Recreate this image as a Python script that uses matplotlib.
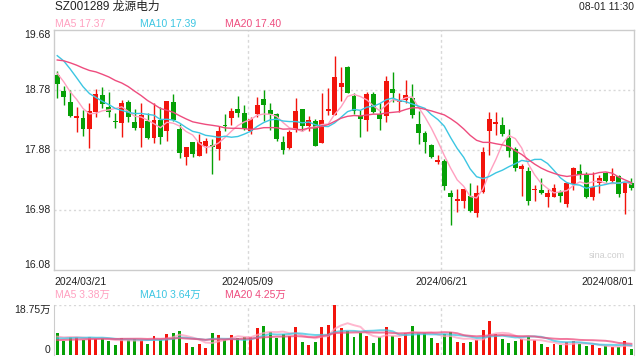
import numpy as np
import pandas as pd
from matplotlib import pyplot as plt

plt.rcParams['font.family'] = ['Liberation Sans', 'Noto Sans CJK SC']

# daily candles, 2024/03/21 .. 2024/08/01
opens = [19.005, 18.765, 18.60, 18.365, 18.36, 18.20, 18.45, 18.705, 18.525, 18.315,
         18.29, 18.60, 18.30, 18.215, 18.315, 18.06, 18.33, 18.17, 18.595, 18.195,
         17.78, 18.00, 17.795, 17.94, 17.95, 17.90, 18.25, 18.365, 18.495, 18.435,
         18.165, 18.425, 18.64, 18.48, 18.42, 18.00, 17.905, 18.19, 18.495, 18.24,
         18.315, 17.99, 18.47, 18.41, 18.83, 19.13, 18.695, 18.395, 18.335, 18.72,
         18.42, 18.395, 18.795, 18.60, 18.63, 18.665, 18.265, 18.13, 17.95, 17.705,
         17.715, 17.23, 17.12, 17.12, 17.195, 16.93, 17.255, 18.17, 18.265, 18.255,
         18.06, 17.895, 17.60, 17.565, 17.28, 17.28, 17.18, 17.18, 17.255, 17.075,
         17.375, 17.565, 17.505, 17.18, 17.39, 17.54, 17.42, 17.49, 17.23, 17.38]
highs = [19.07, 18.845, 18.78, 18.53, 18.48, 18.59, 18.79, 18.825, 18.75, 18.44,
         18.63, 18.625, 18.49, 18.59, 18.43, 18.58, 18.525, 18.615, 18.725, 18.27,
         17.93, 18.005, 18.12, 18.065, 18.045, 18.245, 18.42, 18.515, 18.69, 18.55,
         18.375, 18.68, 18.78, 18.58, 18.43, 18.095, 18.18, 18.655, 18.495, 18.395,
         18.345, 18.73, 18.805, 19.295, 19.13, 19.14, 18.74, 18.48, 18.745, 18.745,
         18.58, 18.99, 19.05, 18.73, 18.93, 18.865, 18.465, 18.17, 17.965, 17.805,
         17.75, 17.28, 17.29, 17.295, 17.39, 17.36, 17.92, 18.455, 18.455, 18.38,
         18.195, 17.92, 17.67, 17.63, 17.355, 17.455, 17.295, 17.37, 17.28, 17.405,
         17.63, 17.665, 17.555, 17.555, 17.505, 17.555, 17.605, 17.505, 17.405, 17.455]
lows = [18.655, 18.555, 18.38, 18.155, 18.095, 17.905, 18.38, 18.505, 18.37, 18.215,
        18.07, 18.305, 18.18, 17.92, 18.04, 17.98, 17.975, 18.015, 18.31, 17.755,
        17.66, 17.77, 17.79, 17.83, 17.515, 17.725, 18.17, 18.25, 18.37, 18.18,
        18.115, 18.37, 18.315, 18.185, 18.02, 17.815, 17.895, 18.155, 18.17, 18.17,
        17.94, 17.99, 18.405, 18.405, 18.62, 18.73, 18.42, 18.08, 18.17, 18.43,
        18.175, 18.30, 18.605, 18.455, 18.58, 18.365, 17.965, 17.83, 17.755, 17.67,
        17.28, 16.755, 16.945, 17.015, 16.945, 16.88, 17.23, 17.805, 18.105, 18.095,
        17.77, 17.57, 17.19, 17.055, 17.11, 17.22, 17.02, 17.18, 17.095, 17.02,
        17.28, 17.44, 17.165, 17.13, 17.24, 17.405, 17.39, 17.18, 16.92, 17.275]
closes = [18.865, 18.67, 18.395, 18.385, 18.20, 18.46, 18.72, 18.575, 18.455, 18.305,
          18.585, 18.38, 18.205, 18.40, 18.06, 18.33, 18.075, 18.615, 18.33, 17.84,
          17.92, 17.82, 17.995, 18.015, 17.93, 18.165, 18.235, 18.465, 18.44, 18.20,
          18.35, 18.55, 18.56, 18.42, 18.045, 17.885, 18.15, 18.465, 18.245, 18.325,
          17.945, 18.33, 18.50, 18.975, 18.89, 18.73, 18.47, 18.345, 18.72, 18.455,
          18.345, 18.915, 18.74, 18.615, 18.705, 18.405, 18.14, 18.005, 17.77, 17.73,
          17.345, 17.17, 17.14, 17.295, 16.97, 17.23, 17.85, 18.345, 18.305, 18.12,
          17.87, 17.615, 17.64, 17.12, 17.295, 17.235, 17.23, 17.305, 17.195, 17.39,
          17.615, 17.505, 17.17, 17.33, 17.465, 17.42, 17.49, 17.215, 17.405, 17.305]
# volume, 万 shares
volumes = [8.25, 5.375, 6.75, 6.75, 5.6, 6.75, 5.9, 6.4, 5.25, 3.75,
           6.4, 5.6, 6.1, 5.6, 4.25, 7.1, 6.0, 7.9, 8.25, 9.0,
           4.6, 3.0, 4.1, 2.6, 8.25, 7.5, 5.6, 7.5, 6.4, 6.9,
           6.9, 10.1, 10.9, 8.6, 6.4, 7.9, 7.1, 10.5, 4.9, 3.75,
           4.9, 10.5, 11.25, 18.75, 10.1, 9.0, 6.75, 8.25, 7.1, 4.5,
           6.75, 10.5, 7.1, 6.4, 8.25, 10.9, 8.25, 8.25, 6.4, 4.5,
           7.9, 8.6, 4.9, 4.5, 4.9, 5.6, 9.4, 12.75, 7.9, 6.0,
           4.5, 5.25, 6.0, 6.75, 5.6, 4.1, 3.0, 4.1, 3.75, 4.9,
           5.25, 4.1, 3.4, 3.75, 2.6, 3.4, 3.0, 3.0, 5.25, 2.25]
# days before the window, only needed so the moving averages start where they do
pre_closes = [18.9, 19.0, 19.1, 19.05, 19.2, 19.15, 19.3, 19.25, 19.35, 19.35,
              19.45, 19.6, 19.7, 19.55, 19.5, 19.3, 19.15, 18.95, 18.885]
pre_volumes = [4.5, 5.0, 5.2, 4.8, 4.6, 5.3, 5.1, 4.9, 5.0, 5.1,
               5.4, 5.8, 5.5, 5.9, 5.4, 6.8, 6.2, 6.9, 6.35]

# values printed in the legends
ma_names = ['MA5', 'MA10', 'MA20']
price_ma_text = ['17.37', '17.39', '17.40']
vol_ma_text = ['3.38万', '3.64万', '4.25万']

date_labels = ['2024/03/21', '2024/05/09', '2024/06/21', '2024/08/01']
date_idx = [0, 30, 60, 89]
price_ticks = [19.68, 18.78, 17.88, 16.98, 16.08]
vol_max = 18.75

RED = '#f2140c'
GREEN = '#06a006'
MA_COLORS = ['#ffa0c0', '#3cc6e2', '#ee4c7e']
GRID = '#d8d8d8'

n = len(closes)
x = np.arange(n)
o = np.array(opens)
c = np.array(closes)
up = c >= o
colors = np.where(up, RED, GREEN)

all_c = pd.Series(pre_closes + closes)
all_v = pd.Series(pre_volumes + volumes)
k = len(pre_closes)
windows = [5, 10, 20]

fig = plt.figure(figsize=(6.4, 3.6), dpi=100)
ax = fig.add_axes([54 / 640, 90 / 360, 580 / 640, 240 / 360])
axv = fig.add_axes([54 / 640, 5 / 360, 580 / 640, 50 / 360])

# candles: wicks then bodies
ax.vlines(x, lows, highs, colors=colors, linewidth=1, zorder=3)
body_lo = np.minimum(o, c)
body_h = np.maximum(np.abs(c - o), 0.012)
ax.bar(x, body_h, bottom=body_lo, width=0.76, color=colors, linewidth=0, zorder=4)
for w, col in zip(windows, MA_COLORS):
    ax.plot(x, all_c.rolling(w).mean().values[k:], color=col, lw=1, zorder=5)

ax.set_xlim(-0.5, 89.4)
ax.set_ylim(price_ticks[-1], price_ticks[0])
ax.set_xticks([])
ax.set_yticks([])
for s in ax.spines.values():
    s.set_color('#cccccc')
    s.set_linewidth(1)
for p in price_ticks[1:-1]:
    ax.axhline(p, color=GRID, lw=1, ls=(0, (1.5, 2)), zorder=1)
for i in date_idx[1:3]:
    ax.axvline(i - 0.5, color=GRID, lw=1, ls=(0, (2, 2)), zorder=1)
    axv.axvline(i - 0.5, color=GRID, lw=1, ls=(0, (2, 2)), zorder=1)

# price labels on the left
for p in price_ticks:
    va = 'top' if p == price_ticks[0] else ('bottom' if p == price_ticks[-1] else 'center')
    ax.text(-0.006, p, '%.2f' % p, transform=ax.get_yaxis_transform(), ha='right', va=va,
            fontsize=7.5, color='#222222')

# date labels
ax.text(0, -0.03, date_labels[0], transform=ax.transAxes, ha='left', va='top', fontsize=7.5, color='#222222')
for lab, i in zip(date_labels[1:3], date_idx[1:3]):
    ax.text(i - 0.5, -0.03, lab, transform=ax.get_xaxis_transform(), ha='center', va='top',
            fontsize=7.5, color='#222222')
ax.text(1, -0.03, date_labels[3], transform=ax.transAxes, ha='right', va='top', fontsize=7.5, color='#222222')
ax.text(0.985, 0.06, 'sina.com', transform=ax.transAxes, ha='right', va='center', fontsize=6.5, color='#cfcfcf')

# volume panel
axv.bar(x, volumes, width=0.46, color=colors, linewidth=0, zorder=3)
for w, col in zip(windows, MA_COLORS):
    axv.plot(x, all_v.rolling(w).mean().values[k:], color=col, lw=1.4, alpha=0.75, zorder=4)
axv.set_xlim(-0.5, 89.4)
axv.set_ylim(0, vol_max)
axv.set_xticks([])
axv.set_yticks([])
for side in ('left', 'right'):
    axv.spines[side].set_color('#cccccc')
for side in ('top', 'bottom'):
    axv.spines[side].set_visible(False)
axv.axhline(vol_max, color=GRID, lw=1, ls=(0, (1.5, 2)), zorder=1)
axv.axhline(0, color=GRID, lw=1, ls=(0, (1.5, 2)), zorder=1)
axv.text(-0.006, vol_max, '18.75万', transform=axv.get_yaxis_transform(), ha='right', va='top',
         fontsize=7.5, color='#222222')
axv.text(-0.006, 0, '0', transform=axv.get_yaxis_transform(), ha='right', va='bottom',
         fontsize=7.5, color='#222222')

# header texts
fig.text(55 / 640, 1 - 7 / 360, 'SZ001289 龙源电力', ha='left', va='center', fontsize=8.5, color='#222222')
fig.text(634 / 640, 1 - 7 / 360, '08-01 11:30', ha='right', va='center', fontsize=7.5, color='#222222')
for xpos, name, pt, vt, col in zip([55, 140, 225], ma_names, price_ma_text, vol_ma_text, MA_COLORS):
    fig.text(xpos / 640, 1 - 24 / 360, name + ' ' + pt, ha='left', va='center', fontsize=7.5, color=col)
    fig.text(xpos / 640, 1 - 295 / 360, name + ' ' + vt, ha='left', va='center', fontsize=7.5, color=col)

fig.savefig('out.png', dpi=100)
plt.close(fig)
